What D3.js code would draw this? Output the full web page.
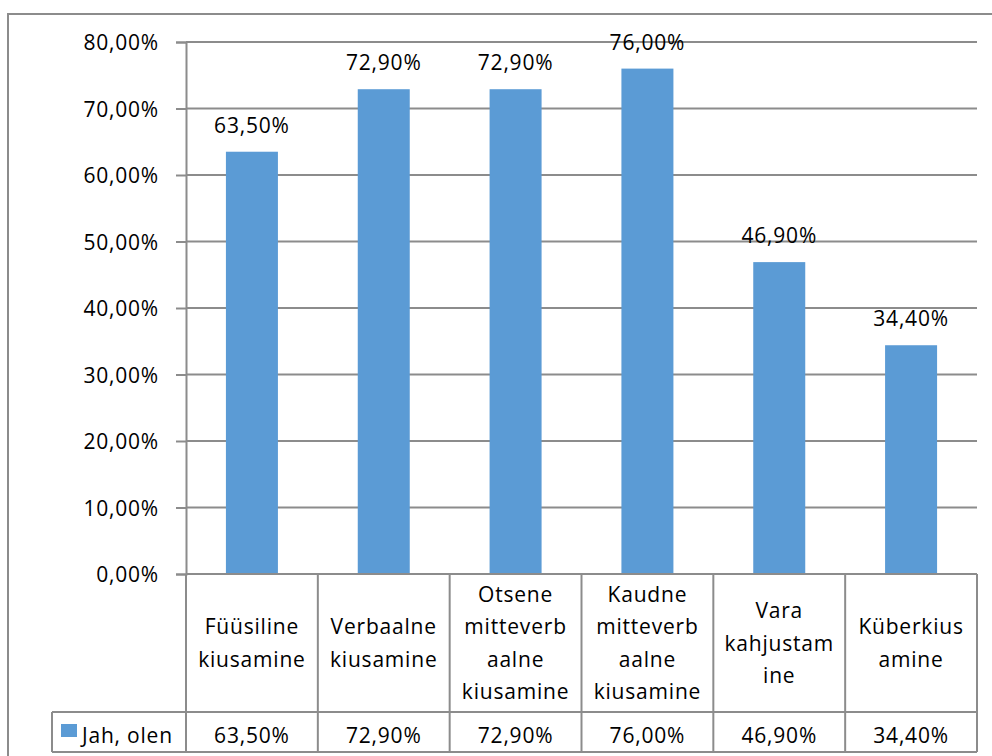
<!DOCTYPE html>
<html>
<head>
<meta charset="utf-8">
<script src="https://cdn.jsdelivr.net/npm/d3@7"></script>
<style>
  body { margin: 0; background: #fff; }
  text { font-family: "Open Sans", "Liberation Sans", sans-serif; font-size: 21px; fill: #000; letter-spacing: 0.8px; }
</style>
</head>
<body>
<div id="chart"></div>
<script>
const categories = [
    ["Füüsiline", "kiusamine"],
    ["Verbaalne", "kiusamine"],
    ["Otsene", "mitteverb", "aalne", "kiusamine"],
    ["Kaudne", "mitteverb", "aalne", "kiusamine"],
    ["Vara", "kahjustam", "ine"],
    ["Küberkius", "amine"]
];
const values = [63.5, 72.9, 72.9, 76.0, 46.9, 34.4];
const seriesName = "Jah, olen";
const yTicks = [0, 10, 20, 30, 40, 50, 60, 70, 80];

const width = 992, height = 756;
const gray = "#8c8c8c";
const barColor = "#5b9bd5";

const svg = d3.select("#chart").append("svg")
    .attr("width", width)
    .attr("height", height);

// chart border
svg.append("rect")
    .attr("x", 8).attr("y", 14)
    .attr("width", 1000).attr("height", 800)
    .attr("fill", "none")
    .attr("stroke", gray)
    .attr("stroke-width", 2);

const plotLeft = 186, plotRight = 977, plotTop = 42, plotBase = 574;
const catRowBottom = 712, valRowBottom = 752, legendLeft = 52;

const x = d3.scaleBand()
    .domain(d3.range(categories.length))
    .range([plotLeft, plotRight])
    .padding(0);

const y = d3.scaleLinear()
    .domain([0, 80])
    .range([plotBase, plotTop]);

const fmt = v => d3.format(".2f")(v).replace(".", ",") + "%";

// gridlines
svg.append("g")
    .selectAll("line")
    .data(yTicks.filter(d => d > 0))
    .enter().append("line")
    .attr("x1", plotLeft).attr("x2", plotRight)
    .attr("y1", d => y(d)).attr("y2", d => y(d))
    .attr("stroke", gray)
    .attr("stroke-width", 2);

// y axis
const yAxis = svg.append("g")
    .attr("transform", `translate(${plotLeft},0)`)
    .call(d3.axisLeft(y).tickValues(yTicks).tickSize(10).tickPadding(17).tickFormat(fmt));
yAxis.attr("font-family", null).attr("font-size", null);
yAxis.select(".domain").attr("stroke", gray).attr("stroke-width", 2);
yAxis.selectAll(".tick line").attr("stroke", gray).attr("stroke-width", 2);
yAxis.selectAll(".tick text").attr("dy", "0.36em");

// bars
const barW = 52;
svg.append("g")
    .selectAll("rect")
    .data(values)
    .enter().append("rect")
    .attr("x", (d, i) => x(i) + x.bandwidth() / 2 - barW / 2)
    .attr("y", d => y(d))
    .attr("width", barW)
    .attr("height", d => y(0) - y(d))
    .attr("fill", barColor);

// data labels
svg.append("g")
    .selectAll("text")
    .data(values)
    .enter().append("text")
    .attr("x", (d, i) => x(i) + x.bandwidth() / 2)
    .attr("y", d => y(d) - 19)
    .attr("text-anchor", "middle")
    .text(fmt);

// data table
const table = svg.append("g");
const line = (x1, y1, x2, y2) => table.append("line")
    .attr("x1", x1).attr("y1", y1).attr("x2", x2).attr("y2", y2)
    .attr("stroke", gray).attr("stroke-width", 2);

line(plotLeft, plotBase, plotRight, plotBase);
line(legendLeft, catRowBottom, plotRight, catRowBottom);
line(legendLeft, valRowBottom, plotRight, valRowBottom);
line(legendLeft, catRowBottom, legendLeft, valRowBottom);
categories.forEach((c, i) => line(x(i) + x.bandwidth(), plotBase, x(i) + x.bandwidth(), valRowBottom));
line(plotLeft, plotBase, plotLeft, valRowBottom);

const lineH = 32.3;
const catMid = (plotBase + catRowBottom) / 2;
categories.forEach((lines, i) => {
    const t = table.append("text")
        .attr("text-anchor", "middle");
    lines.forEach((s, j) => {
        t.append("tspan")
            .attr("x", x(i) + x.bandwidth() / 2)
            .attr("y", catMid + (j - (lines.length - 1) / 2) * lineH + 7.5)
            .text(s);
    });
});

table.selectAll(".val")
    .data(values)
    .enter().append("text")
    .attr("class", "val")
    .attr("x", (d, i) => x(i) + x.bandwidth() / 2)
    .attr("y", valRowBottom - 9)
    .attr("text-anchor", "middle")
    .text(fmt);

// legend key
table.append("rect")
    .attr("x", 61).attr("y", 724)
    .attr("width", 16).attr("height", 13)
    .attr("fill", barColor);
table.append("text")
    .attr("x", 82).attr("y", valRowBottom - 9)
    .text(seriesName);
</script>
</body>
</html>
